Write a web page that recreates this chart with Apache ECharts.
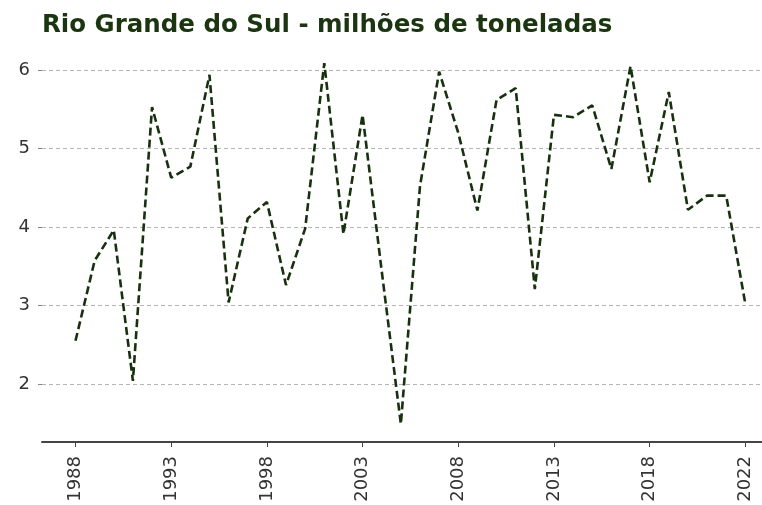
<!DOCTYPE html>
<html>
<head>
    <meta charset="utf-8">
    <title>Rio Grande do Sul - milhões de toneladas</title>
    <script src="https://cdn.jsdelivr.net/npm/echarts@6/dist/echarts.min.js"></script>
    <style>
        html, body { margin: 0; padding: 0; background: #fff; }
        #chart { width: 762px; height: 505px; }
    </style>
</head>
<body>
    <div id="chart"></div>
    <script>
        // anos (a linha 2021 aparece duas vezes na série original)
        const anos = ['1988', '1989', '1990', '1991', '1992', '1993', '1994', '1995', '1996', '1997',
            '1998', '1999', '2000', '2001', '2002', '2003', '2004', '2005', '2006', '2007',
            '2008', '2009', '2010', '2011', '2012', '2013', '2014', '2015', '2016', '2017',
            '2018', '2019', '2020', '2021', '2021', '2022'];

        // produção em milhões de toneladas
        const producao = [2.55, 3.57, 3.96, 2.04, 5.53, 4.63, 4.77, 5.94, 3.04, 4.11,
            4.32, 3.26, 3.98, 6.09, 3.91, 5.43, 3.44, 1.49, 4.52, 5.98,
            5.20, 4.21, 5.62, 5.77, 3.21, 5.43, 5.40, 5.55, 4.74, 6.05,
            4.57, 5.72, 4.22, 4.40, 4.40, 3.02];

        // posições dos rótulos do eixo x (a cada 5 pontos)
        const posRotulos = [0, 5, 10, 15, 20, 25, 30, 35];
        const valoresY = [2, 3, 4, 5, 6];

        const chart = echarts.init(document.getElementById('chart'));

        chart.setOption({
            animation: false,
            textStyle: { fontFamily: 'DejaVu Sans' },
            title: {
                text: 'Rio Grande do Sul - milhões de toneladas',
                left: 37,
                top: 8,
                textStyle: {
                    fontFamily: 'DejaVu Sans',
                    fontWeight: 'bold',
                    fontSize: 24.5,
                    color: '#1a3510'
                }
            },
            grid: {
                left: 42,
                right: 0,
                top: 45,
                bottom: 63
            },
            xAxis: {
                type: 'value',
                min: -1.75,
                max: 35.87,
                axisLine: { show: true, onZero: false, lineStyle: { color: '#444', width: 2 } },
                axisTick: {
                    show: true,
                    length: 5,
                    customValues: posRotulos,
                    lineStyle: { color: '#444', width: 1 }
                },
                axisLabel: {
                    customValues: posRotulos,
                    rotate: 90,
                    margin: 14,
                    fontSize: 18,
                    color: '#333',
                    formatter: v => anos[v]
                },
                splitLine: { show: false }
            },
            yAxis: {
                type: 'value',
                min: 1.26,
                max: 6.32,
                // linha invisível, só para os traços dos ticks aparecerem
                axisLine: { show: true, onZero: false, lineStyle: { color: 'rgba(0,0,0,0)' } },
                axisTick: {
                    show: true,
                    length: 4,
                    customValues: valoresY,
                    lineStyle: { color: '#888', width: 1 }
                },
                axisLabel: {
                    customValues: valoresY,
                    fontSize: 18,
                    color: '#333',
                    margin: 12
                },
                splitLine: {
                    show: true,
                    lineStyle: { color: '#b5b5b5', width: 1, type: [4, 3] }
                }
            },
            series: [{
                type: 'line',
                data: producao.map((v, i) => [i, v]),
                symbol: 'none',
                lineStyle: { color: '#17300e', width: 2.6, type: [8, 4] }
            }]
        });
    </script>
</body>
</html>
